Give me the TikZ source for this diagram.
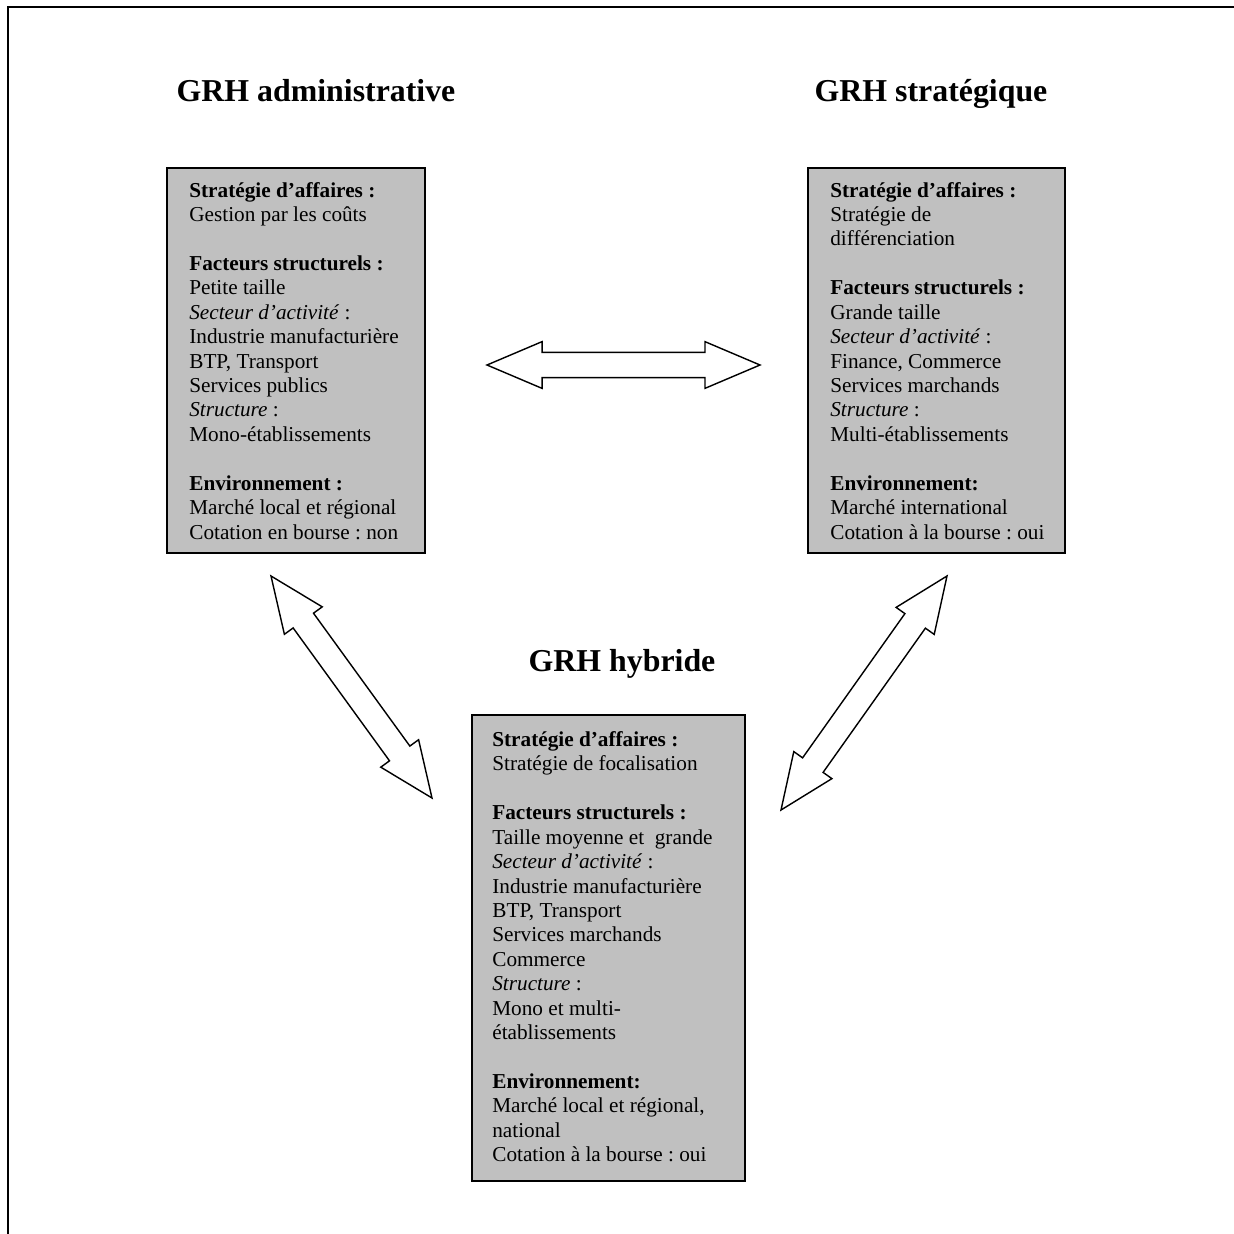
\documentclass[tikz,border=0pt]{standalone}
\usepackage{fontspec}
\setmainfont{Liberation Serif}
\usetikzlibrary{calc}
\frenchspacing
\definecolor{boxgray}{RGB}{192,192,192}
\newcommand{\px}{0.565pt}
\newcommand{\hd}{31.1pt}
\newcommand{\hw}{13.2pt}
\newcommand{\sw}{7.1pt}
% hollow double arrow between two tips
\newcommand{\bigarrow}[2]{%
  \draw[bigarr] (#1)
    -- ($(#1)!\hd!(#2)!\hw!90:(#2)$) -- ($(#1)!\hd!(#2)!\sw!90:(#2)$)
    -- ($(#2)!\hd!(#1)!\sw!-90:(#1)$) -- ($(#2)!\hd!(#1)!\hw!-90:(#1)$)
    -- (#2)
    -- ($(#2)!\hd!(#1)!\hw!90:(#1)$) -- ($(#2)!\hd!(#1)!\sw!90:(#1)$)
    -- ($(#1)!\hd!(#2)!\sw!-90:(#2)$) -- ($(#1)!\hd!(#2)!\hw!-90:(#2)$)
    -- cycle;}
\begin{document}
\begin{tikzpicture}[x=\px, y=-\px,
    box/.style={draw, fill=boxgray, line width=0.8pt, inner sep=0pt},
    boxtext/.style={anchor=north west, inner sep=0pt, align=left,
      font=\fontsize{12}{13.8}\selectfont},
    title/.style={anchor=base, font=\fontsize{18}{21}\selectfont\bfseries},
    bigarr/.style={draw, fill=white, line width=0.8pt, line join=miter}]
            \useasboundingbox (0,0) rectangle (1234,1234);

            % frame
            \draw[line width=1.2pt] (8,1234) -- (8,7) -- (1234,7);

            % titles
            \node[title] (tadm) at (316,101.7) {GRH administrative};
            \node[title] (tstr) at (931,101.7) {GRH stratégique};
            \node[title] (thyb) at (622,671.7) {GRH hybride};

            % boxes
            \node[box, minimum width=258*\px, minimum height=385*\px] (adm) at (296,360.5) {};
            \node[box, minimum width=257*\px, minimum height=385*\px] (str) at (936.5,360.5) {};
            \node[box, minimum width=273*\px, minimum height=466*\px] (hyb) at (608.5,948) {};

            \node[boxtext] (admtxt) at (189,179.6) {\strut\textbf{Stratégie d’affaires :}\\
                Gestion par les coûts\\[13.8pt]
                \textbf{Facteurs structurels :}\\
                Petite taille\\
                \textit{Secteur d’activité} :\\
                Industrie manufacturière\\
                BTP, Transport\\
                Services publics\\
                \textit{Structure} :\\
                Mono-établissements\\[13.8pt]
                \textbf{Environnement :}\\
                Marché local et régional\\
                Cotation en bourse : non};

            \node[boxtext] (strtxt) at (830,179.6) {\strut\textbf{Stratégie d’affaires :}\\
                Stratégie de\\
                différenciation\\[13.8pt]
                \textbf{Facteurs structurels :}\\
                Grande taille\\
                \textit{Secteur d’activité} :\\
                Finance, Commerce\\
                Services marchands\\
                \textit{Structure} :\\
                Multi-établissements\\[13.8pt]
                \textbf{Environnement:}\\
                Marché international\\
                Cotation à la bourse : oui};

            \node[boxtext] (hybtxt) at (492,729) {\strut\textbf{Stratégie d’affaires :}\\
                Stratégie de focalisation\\[13.8pt]
                \textbf{Facteurs structurels :}\\
                Taille moyenne et~ grande\\
                \textit{Secteur d’activité} :\\
                Industrie manufacturière\\
                BTP, Transport\\
                Services marchands\\
                Commerce\\
                \textit{Structure} :\\
                Mono et multi-\\
                établissements\\[13.8pt]
                \textbf{Environnement:}\\
                Marché local et régional,\\
                national\\
                Cotation à la bourse : oui};

            % arrow tips
            \coordinate (as1) at (487,365);
            \coordinate (as2) at (760,365);
            \coordinate (ah1) at (271,576);
            \coordinate (ah2) at (432,798);
            \coordinate (sh1) at (947,576);
            \coordinate (sh2) at (781,810);

            \bigarrow{as1}{as2}
            \bigarrow{ah1}{ah2}
            \bigarrow{sh1}{sh2}
        \end{tikzpicture}
\end{document}
